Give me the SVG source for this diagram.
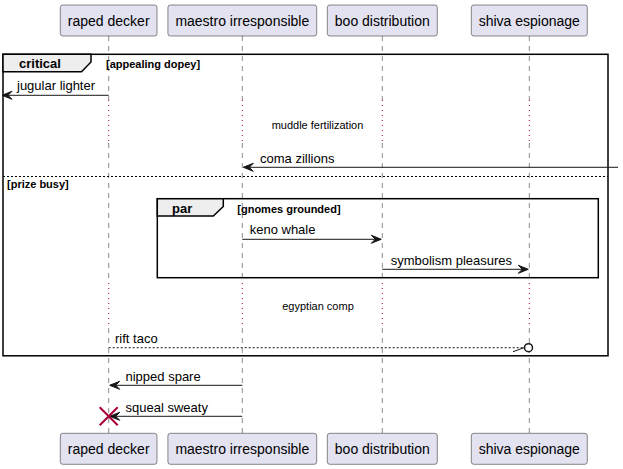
<svg xmlns="http://www.w3.org/2000/svg" width="623" height="469" viewBox="0 0 623 469">
<style>
.box{fill:#E2E2F0;stroke:#181818;stroke-width:0.5}
.pname{font-family:"Liberation Sans",Arial,sans-serif;font-size:14px;fill:#000;text-anchor:middle}
.life{stroke:#181818;stroke-width:0.5;stroke-dasharray:5,5;fill:none}
.delay{stroke:#A80036;stroke-width:1;stroke-dasharray:1,4;fill:none}
.msg{stroke:#181818;stroke-width:1;fill:none}
.dmsg{stroke:#181818;stroke-width:1;fill:none;stroke-dasharray:2,2}
.head{fill:#181818;stroke:#181818;stroke-width:1}
.mtxt{font-family:"Liberation Sans",Arial,sans-serif;font-size:13px;fill:#000}
.dtxt{font-family:"Liberation Sans",Arial,sans-serif;font-size:11px;fill:#000;text-anchor:middle}
.frame{fill:none;stroke:#000;stroke-width:1.5}
.tab{fill:#EEEEEE;stroke:#000;stroke-width:1.5}
.ftitle{font-family:"Liberation Sans",Arial,sans-serif;font-size:13px;font-weight:bold;fill:#000}
.fcond{font-family:"Liberation Sans",Arial,sans-serif;font-size:11px;font-weight:bold;fill:#000}
</style>
<rect width="623" height="469" fill="#FFFFFF"/>
<g id="lifelines">
<path class="life" d="M108.7,36 V100 M108.7,143 V283 M108.7,328 V433"/>
<path class="life" d="M242.3,36 V100 M242.3,143 V283 M242.3,328 V433"/>
<path class="life" d="M382.3,36 V100 M382.3,143 V283 M382.3,328 V433"/>
<path class="life" d="M529.3,36 V100 M529.3,143 V283 M529.3,328 V433"/>
<path class="delay" d="M108.7,100 V143 M242.3,100 V143 M382.3,100 V143 M529.3,100 V143"/>
<path class="delay" d="M108.7,283 V328 M242.3,283 V328 M382.3,283 V328 M529.3,283 V328"/>
</g>
<g id="p-raped-decker">
<rect class="box" x="60.3" y="5" width="96.7" height="31" rx="2.5"/>
<text class="pname" x="108.7" y="25.5">raped decker</text>
<rect class="box" x="60.3" y="433.3" width="96.7" height="31" rx="2.5"/>
<text class="pname" x="108.7" y="453.8">raped decker</text>
</g>
<g id="p-maestro-irresponsible">
<rect class="box" x="167.9" y="5" width="148.8" height="31" rx="2.5"/>
<text class="pname" x="242.3" y="25.5">maestro irresponsible</text>
<rect class="box" x="167.9" y="433.3" width="148.8" height="31" rx="2.5"/>
<text class="pname" x="242.3" y="453.8">maestro irresponsible</text>
</g>
<g id="p-boo-distribution">
<rect class="box" x="327.3" y="5" width="110" height="31" rx="2.5"/>
<text class="pname" x="382.3" y="25.5">boo distribution</text>
<rect class="box" x="327.3" y="433.3" width="110" height="31" rx="2.5"/>
<text class="pname" x="382.3" y="453.8">boo distribution</text>
</g>
<g id="p-shiva-espionage">
<rect class="box" x="471.3" y="5" width="116" height="31" rx="2.5"/>
<text class="pname" x="529.3" y="25.5">shiva espionage</text>
<rect class="box" x="471.3" y="433.3" width="116" height="31" rx="2.5"/>
<text class="pname" x="529.3" y="453.8">shiva espionage</text>
</g>
<g id="frame-critical">
<rect class="frame" x="3" y="54.3" width="605" height="301.5"/>
<path class="tab" d="M3,54.3 H91 V62 L81.5,71.7 H3 Z"/>
<text class="ftitle" x="19" y="67.5">critical</text>
<text class="fcond" x="106" y="67.5">[appealing dopey]</text>
<line x1="3" y1="176.5" x2="608" y2="176.5" stroke="#000" stroke-width="1" stroke-dasharray="2,2"/>
<text class="fcond" x="7" y="187.5">[prize busy]</text>
</g>
<g id="frame-par">
<rect class="frame" x="157.3" y="198.7" width="441" height="79"/>
<path class="tab" d="M157.3,198.7 H223.3 V206.5 L213.3,216 H157.3 Z"/>
<text class="ftitle" x="172" y="212.5">par</text>
<text class="fcond" x="237.3" y="212.5">[gnomes grounded]</text>
</g>
<g id="delays">
<text class="dtxt" x="317.5" y="129">muddle fertilization</text>
<text class="dtxt" x="318" y="309.5">egyptian comp</text>
</g>
<g id="connectors">
<line class="msg" x1="108.7" y1="95.3" x2="3" y2="95.3"/>
<polygon class="head" points="12,91.3 2,95.3 12,99.3 8,95.3"/>
<text class="mtxt" x="17" y="90.3">jugular lighter</text>

<line class="msg" x1="618" y1="167.3" x2="244" y2="167.3"/>
<polygon class="head" points="253.3,163.3 243.3,167.3 253.3,171.3 249.3,167.3"/>
<text class="mtxt" x="260" y="163">coma zillions</text>

<line class="msg" x1="242.3" y1="239.3" x2="380" y2="239.3"/>
<polygon class="head" points="371.3,235.3 381.3,239.3 371.3,243.3 375.3,239.3"/>
<text class="mtxt" x="249.7" y="234">keno whale</text>

<line class="msg" x1="382.3" y1="269.3" x2="527" y2="269.3"/>
<polygon class="head" points="518.3,265.3 528.3,269.3 518.3,273.3 522.3,269.3"/>
<text class="mtxt" x="390.7" y="265">symbolism pleasures</text>

<line class="dmsg" x1="108.7" y1="347.7" x2="524" y2="347.7"/>
<line class="msg" x1="513" y1="351.7" x2="524" y2="347.7"/>
<circle cx="528.5" cy="347.7" r="4" fill="#FFFFFF" stroke="#181818" stroke-width="1.5"/>
<text class="mtxt" x="115" y="343">rift taco</text>

<line class="msg" x1="242.3" y1="385.3" x2="110" y2="385.3"/>
<polygon class="head" points="119.7,381.3 109.7,385.3 119.7,389.3 115.7,385.3"/>
<text class="mtxt" x="125.5" y="380.5">nipped spare</text>

<line class="msg" x1="242.3" y1="416.3" x2="110" y2="416.3"/>
<polygon class="head" points="119.7,412.3 109.7,416.3 119.7,420.3 115.7,416.3"/>
<text class="mtxt" x="125.5" y="411.5">squeal sweaty</text>
<path d="M99.7,407.3 L117.7,425.3 M117.7,407.3 L99.7,425.3" stroke="#A80036" stroke-width="2" fill="none"/>
</g>
</svg>
